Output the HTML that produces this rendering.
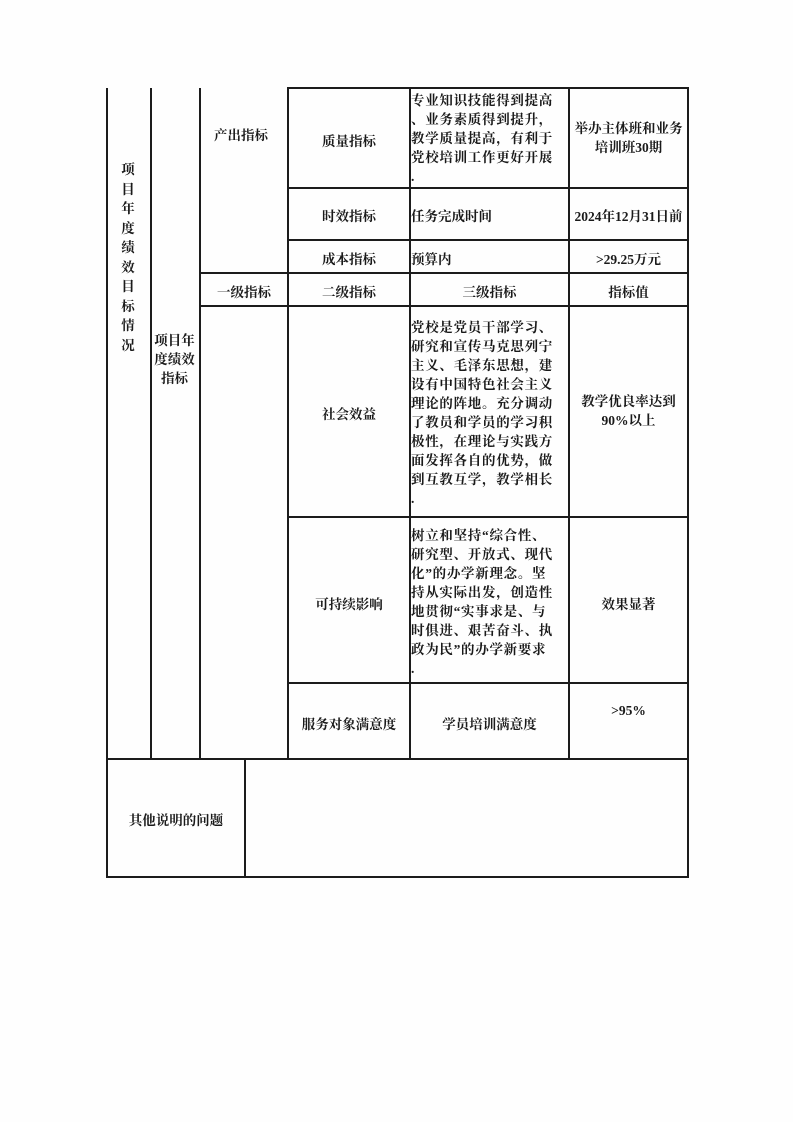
<!DOCTYPE html>
<html><head><meta charset="utf-8"><style>
body{margin:0;background:#fff;}
#p{position:relative;width:793px;height:1122px;background:#fefefe;font-family:"Liberation Serif","Noto Serif CJK SC",serif;color:#1a1a1a;font-weight:700;font-size:13.5px;}
.h{position:absolute;height:2px;background:#1c1c1c;}
.v{position:absolute;width:2px;background:#1c1c1c;}
.t{position:absolute;white-space:nowrap;}
.c{position:absolute;text-align:center;}
.l{position:absolute;line-height:19px;letter-spacing:0.7px;}
</style></head><body><div id="p">
<!-- horizontals -->
<div class="h" style="left:287px;top:87px;width:402px"></div>
<div class="h" style="left:287px;top:187px;width:402px"></div>
<div class="h" style="left:287px;top:239px;width:402px"></div>
<div class="h" style="left:199px;top:272px;width:490px"></div>
<div class="h" style="left:199px;top:305px;width:490px"></div>
<div class="h" style="left:287px;top:516px;width:402px"></div>
<div class="h" style="left:287px;top:682px;width:402px"></div>
<div class="h" style="left:106px;top:758px;width:583px"></div>
<div class="h" style="left:106px;top:876px;width:583px"></div>
<!-- verticals -->
<div class="v" style="left:106px;top:88px;height:790px"></div>
<div class="v" style="left:150px;top:88px;height:671px"></div>
<div class="v" style="left:199px;top:88px;height:671px"></div>
<div class="v" style="left:287px;top:87px;height:672px"></div>
<div class="v" style="left:409px;top:87px;height:672px"></div>
<div class="v" style="left:568px;top:87px;height:672px"></div>
<div class="v" style="left:687px;top:87px;height:791px"></div>
<div class="v" style="left:244px;top:758px;height:119px"></div>
<!-- text -->
<div class="c" style="left:106px;width:44px;top:160px;line-height:19.5px;">项<br>目<br>年<br>度<br>绩<br>效<br>目<br>标<br>情<br>况</div>
<div class="c" style="left:150px;width:49px;top:331px;line-height:19px;">项目年<br>度绩效<br>指标</div>
<div class="t" style="left:214px;top:124px;">产出指标</div>
<div class="c" style="left:289px;width:120px;top:130px;">质量指标</div>
<div class="l" style="left:411px;top:91px;">专业知识技能得到提高<br>、业务素质得到提升，<br>教学质量提高，有利于<br>党校培训工作更好开展<br>.</div>
<div class="c" style="left:570px;width:117px;top:119px;line-height:19px;">举办主体班和业务<br>培训班30期</div>
<div class="c" style="left:289px;width:120px;top:205px;">时效指标</div>
<div class="t" style="left:411px;top:205px;">任务完成时间</div>
<div class="c" style="left:570px;width:117px;top:205px;">2024年12月31日前</div>
<div class="c" style="left:289px;width:120px;top:248px;">成本指标</div>
<div class="t" style="left:411px;top:248px;">预算内</div>
<div class="c" style="left:570px;width:117px;top:248px;">&gt;29.25万元</div>
<div class="c" style="left:201px;width:86px;top:281px;">一级指标</div>
<div class="c" style="left:289px;width:120px;top:281px;">二级指标</div>
<div class="c" style="left:411px;width:157px;top:281px;">三级指标</div>
<div class="c" style="left:570px;width:117px;top:281px;">指标值</div>
<div class="c" style="left:289px;width:120px;top:403px;">社会效益</div>
<div class="l" style="left:411px;top:318px;">党校是党员干部学习、<br>研究和宣传马克思列宁<br>主义、毛泽东思想，建<br>设有中国特色社会主义<br>理论的阵地。充分调动<br>了教员和学员的学习积<br>极性，在理论与实践方<br>面发挥各自的优势，做<br>到互教互学，教学相长<br>.</div>
<div class="c" style="left:570px;width:117px;top:392px;line-height:19px;">教学优良率达到<br>90%以上</div>
<div class="c" style="left:289px;width:120px;top:593px;">可持续影响</div>
<div class="l" style="left:411px;top:526px;">树立和坚持“综合性、<br>研究型、开放式、现代<br>化”的办学新理念。坚<br>持从实际出发，创造性<br>地贯彻“实事求是、与<br>时俱进、艰苦奋斗、执<br>政为民”的办学新要求<br>.</div>
<div class="c" style="left:570px;width:117px;top:593px;">效果显著</div>
<div class="c" style="left:289px;width:120px;top:713px;">服务对象满意度</div>
<div class="c" style="left:411px;width:157px;top:713px;">学员培训满意度</div>
<div class="c" style="left:570px;width:117px;top:703px;">&gt;95%</div>
<div class="c" style="left:108px;width:136px;top:809px;">其他说明的问题</div>
</div></body></html>
